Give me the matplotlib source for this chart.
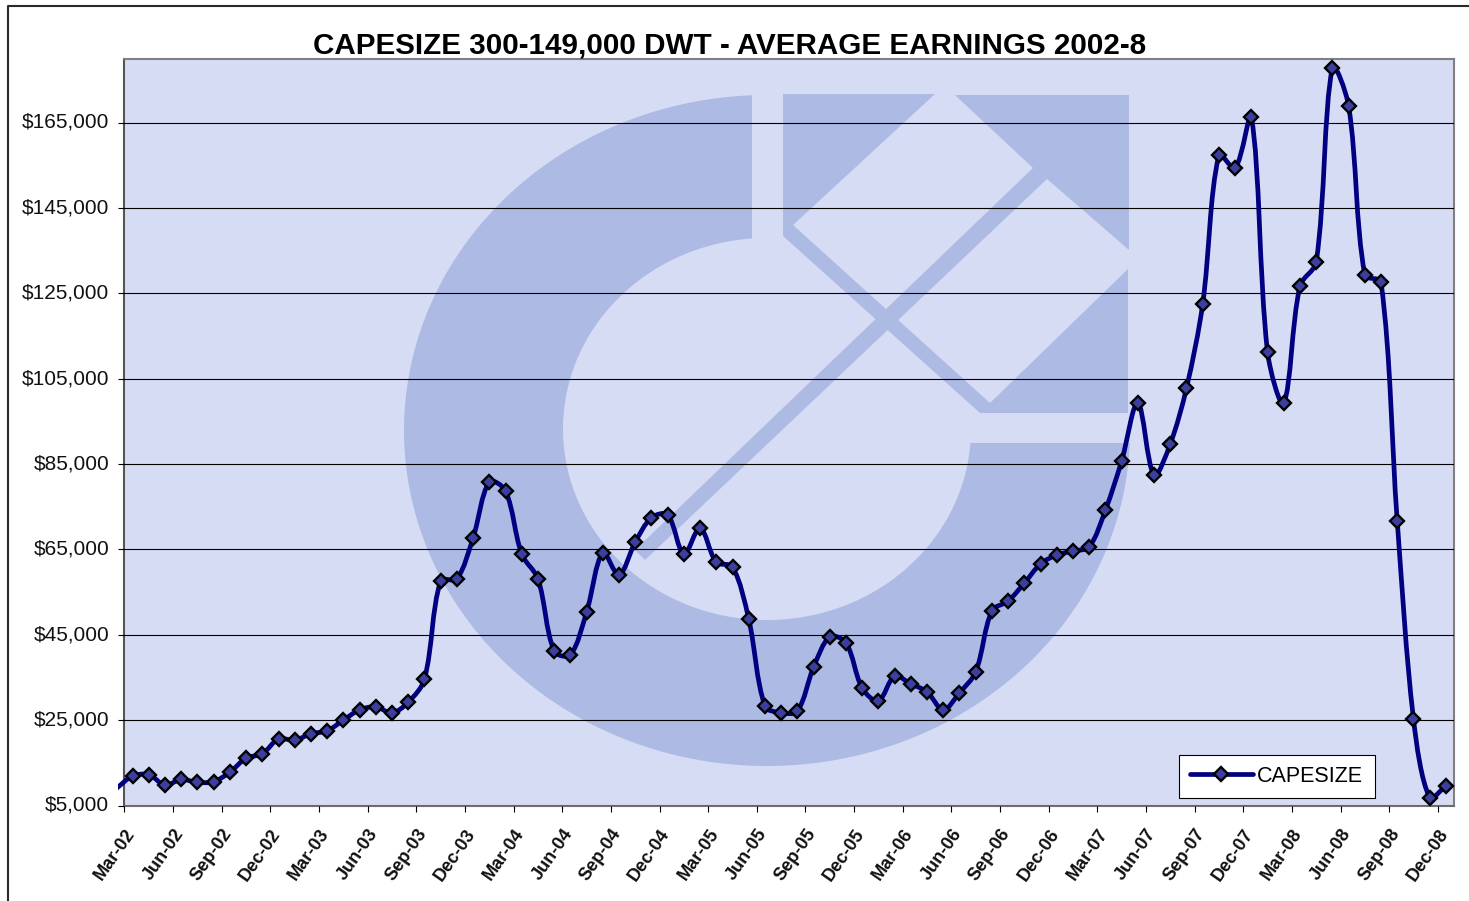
import numpy as np
import matplotlib
matplotlib.use("Agg")
import matplotlib.pyplot as plt
from matplotlib.lines import Line2D
from matplotlib.patches import PathPatch, Polygon
from matplotlib.path import Path
from matplotlib.transforms import Affine2D, Bbox, ScaledTranslation

plt.rcParams['font.family'] = ['Liberation Sans', 'DejaVu Sans']

W, H = 1469, 901

# Data -------------------------------------------------------------------
series_name = "CAPESIZE"
title_text = "CAPESIZE 300-149,000 DWT - AVERAGE EARNINGS 2002-8"
lead_in_value = 9000   # the smoothed line enters from the month before the first marker
earnings = [
    11900, 12200, 9800, 11100, 10400, 10600, 12800, 16100, 17100, 20600,
    20300, 21800, 22500, 25000, 27400, 28100, 26700, 29200, 34600, 57600,
    58100, 67700, 80800, 78700, 63900, 58100, 41200, 40300, 50300, 64200,
    59000, 66700, 72400, 73100, 63900, 70000, 62000, 60900, 48700, 28300,
    26700, 27100, 37400, 44500, 43100, 32500, 29500, 35300, 33500, 31600,
    27400, 31400, 36300, 50600, 52900, 57100, 61600, 63700, 64600, 65600,
    74200, 85700, 99300, 82400, 89700, 102800, 122500, 157400, 154300, 166300,
    111200, 99300, 126700, 132300, 177800, 168900, 129300, 127600, 71600, 25300,
    6800, 9600,
]
x_tick_labels = [
    "Mar-02", "Jun-02", "Sep-02", "Dec-02", "Mar-03", "Jun-03", "Sep-03",
    "Dec-03", "Mar-04", "Jun-04", "Sep-04", "Dec-04", "Mar-05", "Jun-05",
    "Sep-05", "Dec-05", "Mar-06", "Jun-06", "Sep-06", "Dec-06", "Mar-07",
    "Jun-07", "Sep-07", "Dec-07", "Mar-08", "Jun-08", "Sep-08", "Dec-08",
]
y_ticks = [5000, 25000, 45000, 65000, 85000, 105000, 125000, 145000, 165000]

# Style ------------------------------------------------------------------
PLOT_BG = "#D7DCF5"
LOGO = "#ADBAE3"
LINE = "#000080"
MARK = "#3A3FA0"
SPINE = "#808080"

fig = plt.figure(figsize=(W / 100, H / 100), dpi=100, facecolor="white")
L, R, T, B = 124.5, 1454.0, 58.5, 805.5
ax = fig.add_axes([L / W, 1 - B / H, (R - L) / W, (B - T) / H])
ax.set_facecolor(PLOT_BG)
ax.set_xlim(-0.5, 81.5)
ax.set_ylim(5000, 180000)

# Pixel transform for the decorative frame and watermark (origin top-left)
px = Affine2D().scale(1, -1).translate(0, H)

# Outer chart frame
fig.add_artist(Line2D([8, 8, W], [H, 6.3, 6.3], transform=px, color="#2a2a2a", lw=1.5))

# Watermark logo: C-shaped ring cut at x=752 (top) and y=443 (right)
cx, cy_o, cy_i = 767.0, 430.5, 429.0
rx_o, ry_o, rx_i, ry_i = 363.0, 335.5, 204.0, 191.0
cut_x, cut_y = 752.0, 443.0
to_a = np.arccos((cut_x - cx) / rx_o)
te_a = 2 * np.pi - np.arcsin((cut_y - cy_o) / ry_o)
ti_a = np.arccos((cut_x - cx) / rx_i)
tj_a = 2 * np.pi - np.arcsin((cut_y - cy_i) / ry_i)
t_outer = np.linspace(to_a, te_a, 300)
t_inner = np.linspace(tj_a, ti_a, 300)
outer = np.column_stack([cx + rx_o * np.cos(t_outer), cy_o - ry_o * np.sin(t_outer)])
inner = np.column_stack([cx + rx_i * np.cos(t_inner), cy_i - ry_i * np.sin(t_inner)])
ring = np.vstack([outer, inner])
p1 = [(783, 94), (935, 94), (793, 225), (990, 403), (1128, 269), (1128, 413), (980, 413), (783, 236)]
p2 = [(955, 95), (1129, 95), (1129, 250), (1047, 179), (645, 560), (635, 550), (1033, 168)]
for pts in (ring, p1, p2):
    ax.add_patch(Polygon(pts, closed=True, transform=px, facecolor=LOGO, edgecolor="none", zorder=1))

# Grid + axes
ax.set_yticks(y_ticks)
ax.set_yticklabels([f"${v:,}" for v in y_ticks], fontsize=15, color="#111111", va="center_baseline")
ax.yaxis.grid(True, color="black", lw=0.8, zorder=2)
ax.set_axisbelow(False)
ax.xaxis.grid(False)
tick_pos = np.arange(len(x_tick_labels)) * 3 - 0.5
ax.set_xticks(tick_pos)
ax.set_xticklabels(x_tick_labels, fontsize=13, fontweight="bold", rotation=55,
                   ha="right", va="top", rotation_mode="anchor", color="#111111")
ax.tick_params(axis="y", length=4.5, width=0.8, pad=6.5, color="black")
ax.tick_params(axis="x", length=4.5, width=0.8, pad=10, color="black")
shift_up = ScaledTranslation(0, 1.5 / 72, fig.dpi_scale_trans)
for lab in ax.get_yticklabels():
    lab.set_transform(lab.get_transform() + shift_up)
for s, c in (("top", SPINE), ("right", SPINE), ("bottom", "#707070"), ("left", "#555555")):
    ax.spines[s].set_color(c)
    ax.spines[s].set_linewidth(1.5)

# Smooth line: chord-length spline in pixel space through the monthly points
x_idx = np.arange(len(earnings), dtype=float)
xs = np.concatenate([[-1.0], x_idx])
ys = np.array([lead_in_value] + earnings, dtype=float)
P = np.column_stack([xs, ys])
scale = np.array([(R - L) / 82.0, (B - T) / 175000.0])
Q = P * scale
d = np.linalg.norm(np.diff(Q, axis=0), axis=1)
Tn = np.zeros_like(Q)
Tn[1:-1] = (Q[2:] - Q[:-2]) / (d[:-1] + d[1:])[:, None]
Tn[0] = (Q[1] - Q[0]) / d[0]
Tn[-1] = (Q[-1] - Q[-2]) / d[-1]
verts = [tuple(P[0])]
codes = [Path.MOVETO]
for i in range(len(P) - 1):
    c1 = (Q[i] + Tn[i] * d[i] / 3) / scale
    c2 = (Q[i + 1] - Tn[i + 1] * d[i] / 3) / scale
    verts += [tuple(c1), tuple(c2), tuple(P[i + 1])]
    codes += [Path.CURVE4] * 3
curve = PathPatch(Path(verts, codes), facecolor="none", edgecolor=LINE, lw=3.4,
                  capstyle="butt", joinstyle="round", zorder=4)
ax.add_patch(curve)
curve.set_clip_path(None)
curve.set_clip_box(Bbox([[118, 0], [W, H]]))

ax.plot(x_idx, earnings, linestyle="none", marker="D", ms=7.0, mfc=MARK, mec="black",
        mew=1.7, zorder=5, clip_on=False)

# Legend
handle = Line2D([], [], color=LINE, lw=3.4, marker="D", ms=7.0, mfc=MARK, mec="black",
                mew=1.7, solid_capstyle="round", label=series_name)
leg = ax.legend(handles=[handle], loc="lower left", numpoints=1,
                bbox_to_anchor=((1179 - L) / (R - L), (B - 798) / (B - T)),
                borderaxespad=0, fontsize=15.5, handlelength=2.9, handletextpad=0.22,
                borderpad=0.52, fancybox=False, framealpha=1, facecolor="white",
                edgecolor="black")
leg.get_frame().set_linewidth(0.8)
leg.set_zorder(6)

# Title
fig.text(730 / W, 1 - 54 / H, title_text, ha="center", va="baseline", fontsize=21.3,
         fontweight="bold", color="black")

fig.savefig("out.png", dpi=100, facecolor="white")
